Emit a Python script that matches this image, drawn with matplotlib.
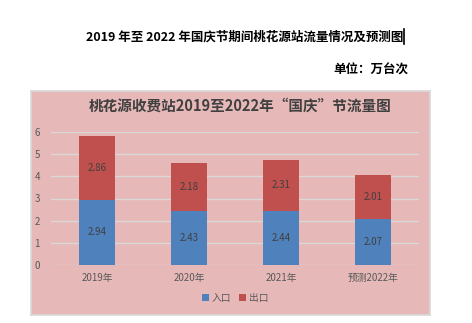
import matplotlib.pyplot as plt
import numpy as np

plt.rcParams["font.family"] = ["Noto Sans CJK SC", "DejaVu Sans"]

categories = ["2019年", "2020年", "2021年", "预测2022年"]
entry = [2.94, 2.43, 2.44, 2.07]
exit_ = [2.86, 2.18, 2.31, 2.01]
yticks = [0, 1, 2, 3, 4, 5, 6]

BLUE = "#4F81BD"
RED = "#C0504D"
PINK = "#E6B8B7"
GREY = "#595959"

W, H = 472, 323
fig = plt.figure(figsize=(W / 100, H / 100), dpi=100)
fig.patch.set_facecolor("white")

# chart frame as a background axes
bg = fig.add_axes([31 / W, 1 - 315 / H, 399 / W, 224 / H])
bg.set_facecolor(PINK)
bg.set_xticks([])
bg.set_yticks([])
for s in bg.spines.values():
    s.set_color("#D9D9D9")
    s.set_linewidth(1.2)

ax = fig.add_axes([51 / W, 1 - 265 / H, 368 / W, 133 / H])
ax.set_facecolor("none")
x = np.arange(len(categories))
ax.bar(x, entry, width=0.4, color=BLUE, label="入口", zorder=3)
ax.bar(x, exit_, width=0.4, bottom=entry, color=RED, label="出口", zorder=3)
for vals, base in ((entry, [0] * 4), (exit_, entry)):
    for xi, v, b in zip(x, vals, base):
        ax.text(xi, b + v / 2, f"{v:.2f}", ha="center", va="center",
                fontsize=7, color="#404040", zorder=4)

ax.set_xlim(-0.5, len(categories) - 0.5)
ax.set_ylim(0, 6)
ax.set_yticks(yticks)
ax.set_xticks(x)
ax.set_xticklabels(categories)
ax.tick_params(axis="both", length=0, labelsize=7, colors=GREY)
ax.tick_params(axis="y", pad=8)
ax.tick_params(axis="x", pad=6)
ax.grid(axis="y", color="#D9D9D9", linewidth=1, zorder=0)
for s in ax.spines.values():
    s.set_visible(False)

ax.legend(loc="center", bbox_to_anchor=(0.5, -0.25), ncol=2, frameon=False,
          fontsize=7, handlelength=0.7, handleheight=0.7, handletextpad=0.3,
          columnspacing=0.8, labelcolor=GREY)

fig.text(240 / W, 1 - 106 / H, "桃花源收费站2019至2022年“国庆”节流量图",
         ha="center", va="center", fontsize=10.5, fontweight="bold",
         color="#404040")
fig.text(245 / W, 1 - 37 / H, "2019 年至 2022 年国庆节期间桃花源站流量情况及预测图",
         ha="center", va="center", fontsize=9, fontweight="bold", color="black")
fig.text(408 / W, 1 - 70 / H, "单位：万台次", ha="right", va="center",
         fontsize=9, fontweight="bold", color="black")
# text cursor mark after the heading
fig.add_artist(plt.Line2D([404 / W, 404 / W], [1 - 44 / H, 1 - 29 / H],
                          color="black", linewidth=1.2))

fig.savefig("out.png", dpi=100)
